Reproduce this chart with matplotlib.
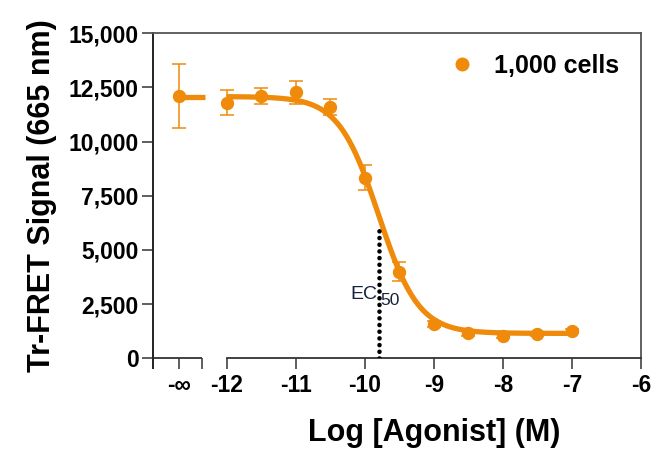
import matplotlib
matplotlib.use('Agg')
import matplotlib.pyplot as plt
import numpy as np

plt.rcParams['font.family'] = ['Liberation Sans', 'DejaVu Sans']

### data ###
NEG_INF_POS = -12.69   # where the "-inf" (no agonist) point sits on the axis
log_conc = [NEG_INF_POS, -12, -11.5, -11, -10.5, -10, -9.5, -9, -8.5, -8, -7.5, -7]
signal = [12100, 11800, 12100, 12280, 11590, 8340, 4000, 1580, 1150, 1040, 1110, 1260]
sig_err = [1480, 590, 370, 530, 370, 580, 440, 120, 100, 90, 90, 110]

# 4PL fit parameters
fit_top = 12080
fit_bottom = 1150
fit_logec50 = -9.8
fit_hill = 1.5
ec50_line_top = 6150

xtick_pos = [NEG_INF_POS, -12, -11, -10, -9, -8, -7, -6]
xtick_lab = ['-\u221e', '-12', '-11', '-10', '-9', '-8', '-7', '-6']
ytick_pos = [0, 2500, 5000, 7500, 10000, 12500, 15000]

### axis layout ###
xmin = -13.063
xmax = -6
x_break = -12.353  # right end of the "-inf" segment
x_top_end = -12.31  # end of plateau segment in the -inf part

orange = '#ef8a0a'

def four_pl(x):
    return fit_bottom + (fit_top - fit_bottom)/(1. + 10**((x - fit_logec50)*fit_hill))

fig = plt.figure(figsize=(6.54, 4.53), dpi=100)
ax = fig.add_axes([153.3/654, (453-358.3)/453, (641-153.3)/654, (358.3-33.3)/453])

# fitted curve
xfit = np.linspace(-12, -7, 300)
ax.plot(xfit, four_pl(xfit), color=orange, lw=3.8, solid_capstyle='butt', zorder=3)
ax.plot([NEG_INF_POS, x_top_end], [fit_top, fit_top], color=orange, lw=3.8,
        solid_capstyle='butt', zorder=3)

# data with error bars
ax.errorbar(log_conc, signal, yerr=sig_err, fmt='none', ecolor=orange, elinewidth=1.1,
            capsize=4.8, capthick=1.1, zorder=2)
ax.plot(log_conc, signal, 'o', color=orange, ms=8.6, mec=orange, zorder=4,
        label='1,000 cells', clip_on=False)

# EC50 marker
ax.plot([fit_logec50, fit_logec50], [0, ec50_line_top], color='black', lw=3.3,
        linestyle=(0, (0.01, 1.45)), dash_capstyle='round', zorder=5)
ax.text(-9.825, 2714, 'EC', fontsize=14, color='#17223f',
        ha='right', va='baseline', zorder=6)
ax.text(-9.77, 2480, '50', fontsize=12.5, color='#17223f',
        ha='left', va='baseline', zorder=6)

ax.set_xlim(xmin, xmax)
ax.set_ylim(0, 15000)

# spines
ax.spines['left'].set_color('#222222')
ax.spines['left'].set_linewidth(1.4)
for s in ['top', 'right']:
    ax.spines[s].set_color('#555555')
    ax.spines[s].set_linewidth(1.3)
ax.spines['bottom'].set_color('#333333')
ax.spines['bottom'].set_linewidth(1.3)
ax.spines['bottom'].set_bounds(-12, -6)
trx = ax.get_xaxis_transform()
ax.plot([xmin, x_break], [0, 0], color='#333333', lw=1.3, transform=trx,
        clip_on=False, solid_capstyle='butt')
ax.plot([0, 0], [0, -11/325.], color='#222222', lw=1.4, transform=ax.transAxes,
        clip_on=False, solid_capstyle='butt')

# ticks
ax.set_xticks(xtick_pos + [x_break])
ax.set_xticklabels(xtick_lab + [''])
ax.set_xticks([x_break, -12, -6], minor=True)
ax.set_yticks(ytick_pos)
ax.set_yticklabels(['{:,}'.format(v) for v in ytick_pos])
ax.tick_params(axis='both', which='major', direction='out', length=7.9, width=1.1,
               color='#333333', labelsize=16.5)
ax.tick_params(axis='x', which='major', pad=3.5)
ax.tick_params(axis='y', which='major', pad=2.5)
ax.tick_params(axis='x', which='minor', direction='in', length=3.6, width=1.1,
               color='#333333')
for lab in ax.get_xticklabels() + ax.get_yticklabels():
    lab.set_fontweight('bold')

ax.set_ylabel('Tr-FRET Signal (665 nm)', fontsize=22, fontweight='bold', labelpad=8)
ax.set_xlabel('Log [Agonist] (M)', fontsize=22, fontweight='bold')
ax.xaxis.label.set_va('top')
ax.xaxis.set_label_coords((433.8-153.3)/(641-153.3), -(418-358.3)/325.)

leg = ax.legend(loc='center left', bbox_to_anchor=(449.5/654, 387/453),
                bbox_transform=fig.transFigure, frameon=False, handlelength=1.0,
                handletextpad=0.78, borderpad=0, borderaxespad=0, markerscale=1.05,
                prop={'size': 18, 'weight': 'bold'})

plt.savefig('out.png', dpi=100)
